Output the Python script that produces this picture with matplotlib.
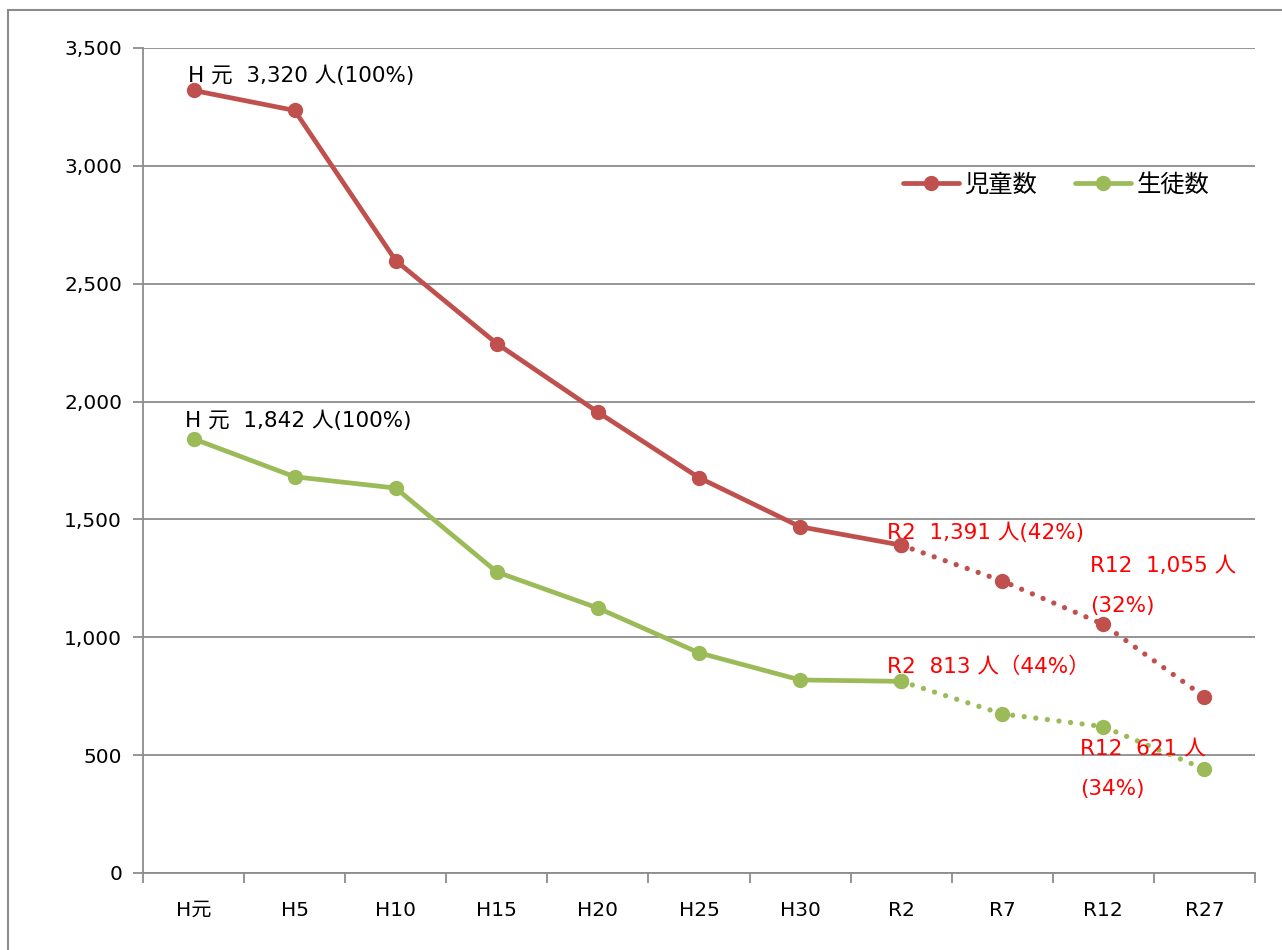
import matplotlib
matplotlib.use("Agg")
import matplotlib.pyplot as plt
from matplotlib.patches import Rectangle

plt.rcParams['font.family'] = ['DejaVu Sans', 'Noto Sans CJK JP']

# 年度
years = ["H元", "H5", "H10", "H15", "H20", "H25", "H30", "R2", "R7", "R12", "R27"]
# 児童数・生徒数 (R2 以降は推計)
jido = [3320, 3235, 2598, 2246, 1955, 1677, 1469, 1391, 1239, 1055, 747]
seito = [1842, 1681, 1633, 1277, 1124, 934, 819, 813, 675, 621, 441]
split = 7  # R2 まで実績

RED = "#C0504D"
GREEN = "#9BBB59"
GRID = "#8C8C8C"

fig = plt.figure(figsize=(12.82, 9.5), dpi=100)
ax = fig.add_axes([143 / 1282, 1 - 873 / 950, (1255 - 143) / 1282, (873 - 48) / 950])

# 外枠
fig.patches.append(Rectangle((8 / 1282, -0.05), 1.2, 1 - 10 / 950 + 0.05,
                             transform=fig.transFigure, fill=False,
                             edgecolor="#8C8C8C", linewidth=1.5, clip_on=False))

x = list(range(len(years)))
dots = (0, (0.01, 2.2))
for vals, c, lab in [(jido, RED, "児童数"), (seito, GREEN, "生徒数")]:
    ax.plot(x[:split + 1], vals[:split + 1], "-o", color=c, lw=3.4, ms=10,
            label=lab, solid_capstyle="round", zorder=3)
    ax.plot(x[split:], vals[split:], linestyle=dots, color=c, lw=3.8,
            dash_capstyle="round", zorder=3)
    ax.plot(x[split:], vals[split:], "o", color=c, ms=10, zorder=4)

ax.set_xlim(-0.5, len(years) - 0.5)
ax.set_ylim(0, 3500)
ax.set_yticks(range(0, 3501, 500))
ax.set_yticklabels([f"{v:,}" for v in range(0, 3501, 500)], fontsize=14.5)
ax.set_xticks(x)
ax.set_xticklabels(years, fontsize=14.5)
ax.set_xticks([i - 0.5 for i in range(len(years) + 1)], minor=True)
ax.tick_params(axis="x", which="major", length=0, pad=20)
ax.tick_params(axis="x", which="minor", length=7, color=GRID, width=1.3)
ax.tick_params(axis="y", length=7, color=GRID, width=1.3, pad=8)
ax.grid(axis="y", color=GRID, lw=1.3)
ax.set_axisbelow(True)
for s in ["top", "right"]:
    ax.spines[s].set_visible(False)
for s in ["left", "bottom"]:
    ax.spines[s].set_color(GRID)
    ax.spines[s].set_linewidth(1.3)

# 注記
fs = 15.5
ax.text(-0.05, 3356, "H 元  3,320 人(100%)", fontsize=fs, color="black")
ax.text(-0.08, 1892, "H 元  1,842 人(100%)", fontsize=fs, color="black")
ax.text(6.86, 1417, "R2  1,391 人(42%)", fontsize=fs, color="red")
ax.text(8.87, 1277, "R12  1,055 人", fontsize=fs, color="red")
ax.text(8.87, 1107, "(32%)", fontsize=fs, color="red")
ax.text(6.86, 849, "R2  813 人（44%）", fontsize=fs, color="red")
ax.text(8.77, 501, "R12  621 人", fontsize=fs, color="red")
ax.text(8.77, 331, "(34%)", fontsize=fs, color="red")

ax.legend(loc="center", bbox_to_anchor=((1056 - 143) / 1112, (873 - 185) / 825),
          ncol=2, frameon=False, fontsize=17.5, handlelength=2.3,
          columnspacing=1.6, handletextpad=0.2)

fig.savefig("out.png", dpi=100)
